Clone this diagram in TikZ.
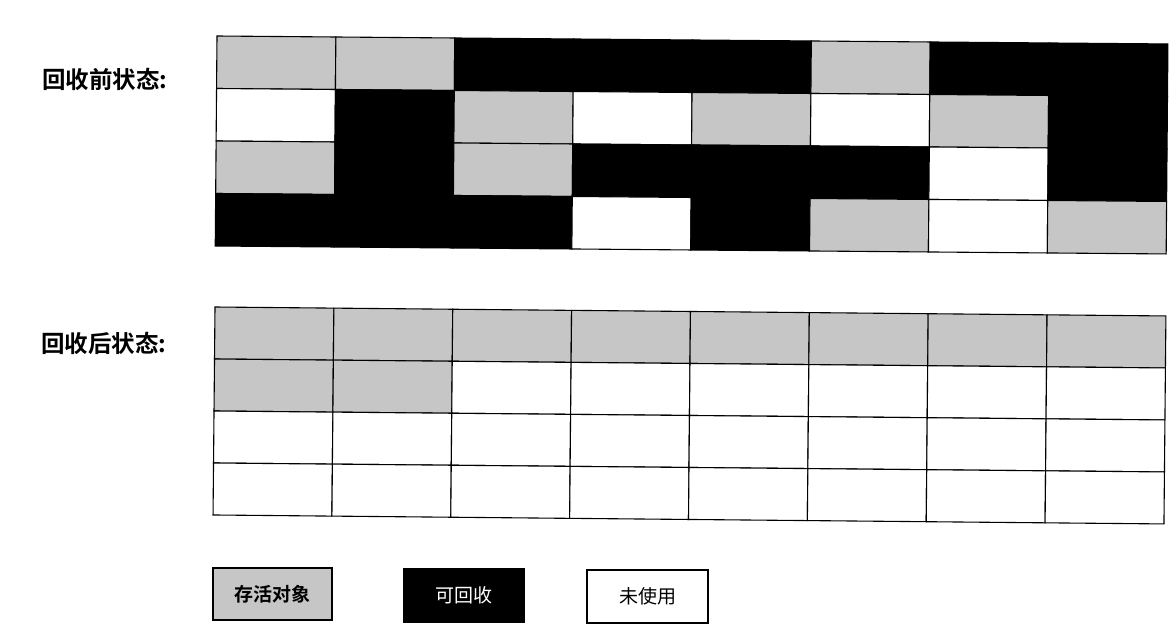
\documentclass[tikz,border=0pt]{standalone}
\usepackage{fontspec}
\newfontfamily\cjk{Noto Sans CJK SC}[BoldFont={Noto Sans CJK SC Bold}]
\definecolor{cG}{RGB}{198,198,198}
\definecolor{cB}{RGB}{0,0,0}
\definecolor{cW}{RGB}{255,255,255}
\begin{document}
\begin{tikzpicture}[x=1pt,y=-1pt,
  cellbox/.style={draw=black, line width=1.1pt},
  statelabel/.style={anchor=west, inner sep=0pt, font=\cjk\bfseries\fontsize{23.5}{27}\selectfont},
  legbox/.style={draw=black, line width=1.3pt, inner sep=0pt, font=\cjk\fontsize{19}{22}\selectfont}]
\useasboundingbox (0,0) rectangle (1171,637);
\fill[white] (0,0) rectangle (1171,637);
\def\cw{118.875}
% before
\begin{scope}[shift={(217,36)}, rotate=-0.48]
\def\rh{52.5}
\foreach \row [count=\j from 0] in {{G,G,B,B,B,G,B,B},{W,B,G,W,G,W,G,B},{G,B,G,B,B,B,W,B},{B,B,B,W,B,G,W,G}}{
  \foreach \c [count=\i from 0] in \row {
    \filldraw[cellbox, fill=c\c] (\i*\cw,\j*\rh) rectangle ++(\cw,\rh);
  }
}
\end{scope}
% after
\begin{scope}[shift={(215,307)}, rotate=-0.54]
\def\rh{52}
\foreach \row [count=\j from 0] in {{G,G,G,G,G,G,G,G},{G,G,W,W,W,W,W,W},{W,W,W,W,W,W,W,W},{W,W,W,W,W,W,W,W}}{
  \foreach \c [count=\i from 0] in \row {
    \filldraw[cellbox, fill=c\c] (\i*\cw,\j*\rh) rectangle ++(\cw,\rh);
  }
}
\end{scope}
\node[statelabel] (before) at (42,79.5) {回收前状态:};
\node[statelabel] (after) at (41,343) {回收后状态:};
\node[legbox, fill=cG, minimum width=119pt, minimum height=52pt, font=\cjk\bfseries\fontsize{19}{22}\selectfont] (live) at (272.5,594) {存活对象};
\node[legbox, fill=black, text=white, minimum width=120pt, minimum height=53pt] (reclaim) at (464,595.5) {可回收};
\node[legbox, fill=white, minimum width=121pt, minimum height=53pt] (unused) at (647.5,596.5) {未使用};
\end{tikzpicture}
\end{document}
